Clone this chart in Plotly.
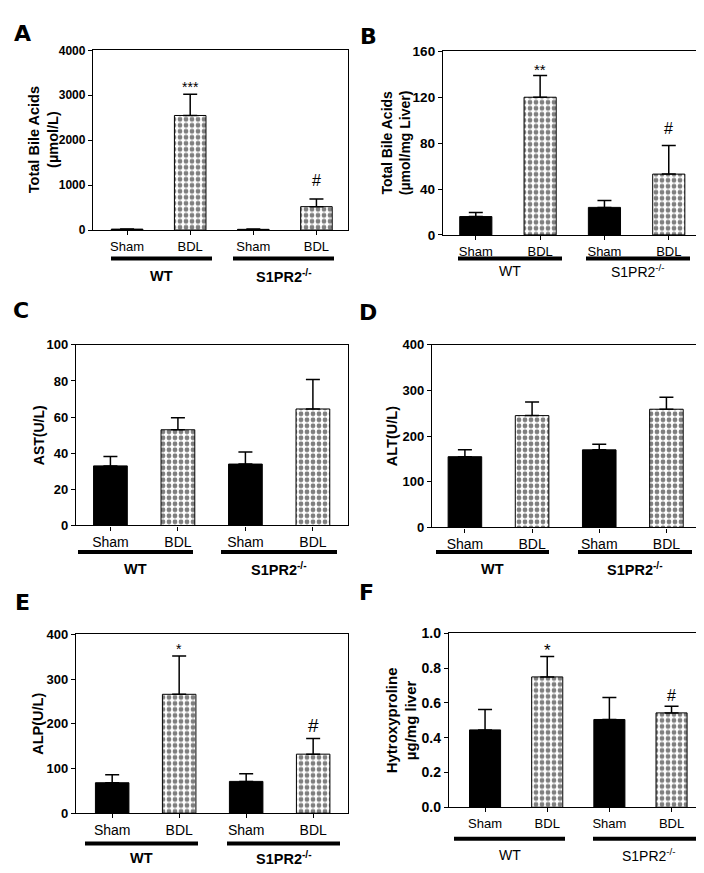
import plotly.graph_objects as go

W, H = 704, 873
FONT = "Liberation Sans, Arial, sans-serif"

categories = ["Sham", "BDL", "Sham", "BDL"]
groups = ["WT", "S1PR2<sup>-/-</sup>"]
is_checker = [False, True, False, True]

# Panel A: Total bile acids (serum)
a_mean = [20, 2550, 15, 520]
a_err = [5, 470, 5, 170]
a_sig = ["", "***", "", "#"]
# Panel B: Total bile acids (liver)
b_mean = [16, 120, 24, 53]
b_err = [3.5, 19, 6, 25]
b_sig = ["", "**", "", "#"]
# Panel C: AST
c_mean = [33, 53, 34, 64.5]
c_err = [5.2, 6.7, 6.7, 16.3]
c_sig = ["", "", "", ""]
# Panel D: ALT
d_mean = [155, 245, 170, 259]
d_err = [15, 30, 12, 26]
d_sig = ["", "", "", ""]
# Panel E: ALP
e_mean = [68, 266, 71, 132]
e_err = [18, 86, 17, 35]
e_sig = ["", "*", "", "#"]
# Panel F: Hydroxyproline
f_mean = [0.445, 0.75, 0.505, 0.543]
f_err = [0.117, 0.117, 0.126, 0.038]
f_sig = ["", "*", "", "#"]

panels = [
    dict(letter="A", mean=a_mean, err=a_err, sig=a_sig, ymax=4000, dtick=1000, fmt="",
         title="Total Bile Acids<br>(µmol/L)", tsize=14.5, tx=35, yts=12, xts=13,
         box=(85, 340, 35, 218), xr=(-0.54, 3.5), lx=(15, 18),
         gl=[(103, 204), (225, 326)], gy=247, gty=265, gbold=True, gsize=14.5,
         sigsize=[0, 14, 0, 16], sigshift=[0, 7, 0, 19]),
    dict(letter="B", mean=b_mean, err=b_err, sig=b_sig, ymax=160, dtick=40, fmt="",
         title="Total Bile Acids<br>(µmol/mg Liver)", tsize=14, tx=388, yts=13.5, xts=13,
         box=(435, 691, 36, 223), xr=(-0.51, 3.47), lx=(360, 21),
         gl=[(450, 554), (578, 682)], gy=247, gty=260, gbold=False, gsize=14,
         sigsize=[0, 15, 0, 16], sigshift=[0, 6, 0, 17]),
    dict(letter="C", mean=c_mean, err=c_err, sig=c_sig, ymax=100, dtick=20, fmt="",
         title="AST(U/L)", tsize=14, tx=31, yts=13, xts=14,
         box=(68, 340, 335, 519), xr=(-0.51, 3.52), lx=(13, 300),
         gl=[(70, 185), (213, 329)], gy=546, gty=563, gbold=True, gsize=14.5,
         sigsize=[0, 0, 0, 0], sigshift=[0, 0, 0, 0]),
    dict(letter="D", mean=d_mean, err=d_err, sig=d_sig, ymax=400, dtick=100, fmt="",
         title="ALT(U/L)", tsize=14.5, tx=384, yts=13, xts=14,
         box=(424, 692, 335, 521), xr=(-0.49, 3.5), lx=(360, 302),
         gl=[(428, 541), (570, 684)], gy=546, gty=563, gbold=True, gsize=14.5,
         sigsize=[0, 0, 0, 0], sigshift=[0, 0, 0, 0]),
    dict(letter="E", mean=e_mean, err=e_err, sig=e_sig, ymax=400, dtick=100, fmt="",
         title="ALP(U/L)", tsize=14.5, tx=30, yts=13, xts=14,
         box=(68, 340, 630, 812), xr=(-0.54, 3.52), lx=(14, 597),
         gl=[(77, 190), (219, 332)], gy=843, gty=858, gbold=True, gsize=14.5,
         sigsize=[0, 14, 0, 19], sigshift=[0, 7, 0, 13]),
    dict(letter="F", mean=f_mean, err=f_err, sig=f_sig, ymax=1.0, dtick=0.2, fmt=".1f",
         title="Hytroxyproline<br>µg/mg liver", tsize=15, tx=393, yts=14, xts=13,
         box=(441, 694, 629, 806), xr=(-0.58, 3.49), lx=(358, 587),
         gl=[(446, 557), (585, 696)], gy=838, gty=855, gbold=False, gsize=14,
         sigsize=[0, 17, 0, 16], sigshift=[0, 6, 0, 11]),
]


def px(x):
    return x / W


def py(y):
    return 1 - y / H


fig = go.Figure()
layout = dict(width=W, height=H, margin=dict(l=0, r=0, t=0, b=0),
              paper_bgcolor="white", plot_bgcolor="white", showlegend=False,
              font=dict(family=FONT, color="black"))
annotations = []
shapes = []

for k, p in enumerate(panels, start=1):
    xa = "x" if k == 1 else f"x{k}"
    ya = "y" if k == 1 else f"y{k}"
    xkey = "xaxis" if k == 1 else f"xaxis{k}"
    ykey = "yaxis" if k == 1 else f"yaxis{k}"
    L, R, T, B = p["box"]
    xs = list(range(len(categories)))

    for checker in (False, True):
        idx = [i for i in xs if is_checker[i] == checker]
        marker = dict(color="black", line=dict(color="black", width=1))
        if checker:
            marker = dict(color="white", line=dict(color="black", width=1),
                          pattern=dict(shape=".", fgcolor="black", bgcolor="white",
                                       size=6, solidity=0.5, fillmode="overlay"))
        fig.add_trace(go.Bar(
            x=idx, y=[p["mean"][i] for i in idx], width=0.5, xaxis=xa, yaxis=ya,
            marker=marker,
            error_y=dict(type="data", symmetric=False,
                         array=[p["err"][i] for i in idx],
                         arrayminus=[0 for i in idx],
                         color="black", thickness=1.5, width=7),
        ))

    layout[xkey] = dict(domain=[px(L), px(R)], anchor=ya, range=list(p["xr"]),
                        tickvals=xs, ticktext=categories, ticks="outside", ticklen=4,
                        tickwidth=1, tickcolor="black",
                        tickfont=dict(size=p["xts"], family=FONT, color="black"),
                        showline=True, linecolor="black", linewidth=1.3, mirror=True,
                        showgrid=False, zeroline=False)
    layout[ykey] = dict(domain=[py(B), py(T)], anchor=xa, range=[0, p["ymax"]],
                        dtick=p["dtick"], tick0=0, tickformat=p["fmt"],
                        ticks="outside", ticklen=4, tickwidth=1, tickcolor="black",
                        tickfont=dict(size=p["yts"], family=FONT, color="black", weight="bold"),
                        showline=True, linecolor="black", linewidth=1.3, mirror=True,
                        showgrid=False, zeroline=False)

    for i, s in enumerate(p["sig"]):
        if s:
            annotations.append(dict(x=i, y=p["mean"][i] + p["err"][i], xref=xa, yref=ya,
                                    text=s, showarrow=False, yanchor="middle",
                                    yshift=p["sigshift"][i],
                                    font=dict(size=p["sigsize"][i], family=FONT, color="black")))

    annotations.append(dict(x=px(p["tx"]), y=py((T + B) / 2), xref="paper", yref="paper",
                            text=p["title"], textangle=-90, showarrow=False,
                            xanchor="center", yanchor="middle",
                            font=dict(size=p["tsize"], family=FONT, color="black", weight="bold")))
    annotations.append(dict(x=px(p["lx"][0]), y=py(p["lx"][1]), xref="paper", yref="paper",
                            text=p["letter"], showarrow=False, xanchor="center", yanchor="middle",
                            font=dict(size=22, family="DejaVu Sans, sans-serif",
                                      color="black", weight="bold")))
    for (g0, g1), gname in zip(p["gl"], groups):
        shapes.append(dict(type="line", xref="paper", yref="paper",
                           x0=px(g0), x1=px(g1), y0=py(p["gy"]), y1=py(p["gy"]),
                           line=dict(color="black", width=4)))
        annotations.append(dict(x=px((g0 + g1) / 2), y=py(p["gty"]), xref="paper", yref="paper",
                                text=gname, showarrow=False, xanchor="center", yanchor="middle",
                                font=dict(size=p["gsize"], family=FONT, color="black",
                                          weight="bold" if p["gbold"] else "normal")))

layout["annotations"] = annotations
layout["shapes"] = shapes
layout["barmode"] = "overlay"
fig.update_layout(**layout)
fig.write_html("out.html")
